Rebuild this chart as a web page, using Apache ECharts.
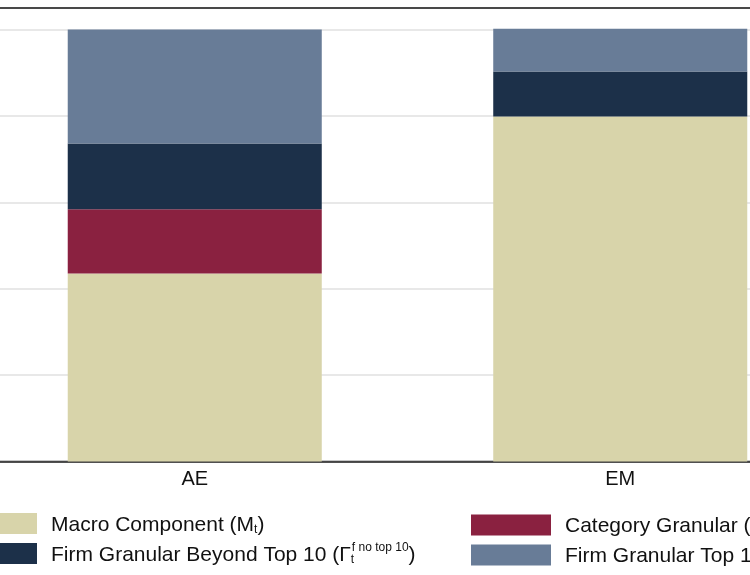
<!DOCTYPE html>
<html>
<head>
<meta charset="utf-8">
<script src="https://cdn.jsdelivr.net/npm/echarts@6/dist/echarts.min.js"></script>
<style>html,body{margin:0;padding:0;background:#fff}#c{width:750px;height:575px}</style>
</head>
<body>
<div id="c"></div>
<script>
var categories = ['AE', 'EM'];
var macroComponent = [0.435, 0.799];
var categoryGranular = [0.149, 0.0];
var firmBeyondTop10 = [0.152, 0.104];
var firmTop10 = [0.264, 0.099];
var seriesNames = ['Macro Component', 'Category Granular', 'Firm Granular Beyond Top 10', 'Firm Granular Top 10'];
var colors = ['#D8D4AA', '#8A2140', '#1C3049', '#687C97'];

var FONT = "'Liberation Sans', Arial, sans-serif";
var labels = {};
labels[seriesNames[0]] = '{n|Macro Component (M}{sub|t}{n|)}';
labels[seriesNames[1]] = '{n|Category Granular (\u0393}{subz|t}{sup|c}{n|)}';
labels[seriesNames[2]] = '{n|Firm Granular Beyond Top 10 (\u0393}{subz|t}{sup|f no top 10}{n|)}';
labels[seriesNames[3]] = '{n|Firm Granular Top 10 (\u0393}{subz|t}{sup|f top 10}{n|)}';

var rich = {
  n: {fontSize: 21, fontFamily: FONT, color: '#111', lineHeight: 24, verticalAlign: 'bottom'},
  sub: {fontSize: 12, fontFamily: FONT, color: '#111', lineHeight: 12, verticalAlign: 'bottom'},
  subz: {fontSize: 12, fontFamily: FONT, color: '#111', lineHeight: 12, verticalAlign: 'bottom', width: 1},
  sup: {fontSize: 12, fontFamily: FONT, color: '#111', lineHeight: 14, verticalAlign: 'top'}
};

function legendCfg(left, itemWidth, names) {
  return {
    orient: 'vertical', left: left, top: 513, padding: 0, itemGap: 6,
    itemWidth: itemWidth, itemHeight: 21, icon: 'rect',
    data: names,
    formatter: function (name) { return labels[name]; },
    textStyle: {rich: rich, padding: [0, 0, 0, 9]}
  };
}

var dataArrays = [macroComponent, categoryGranular, firmBeyondTop10, firmTop10];
var series = seriesNames.map(function (nm, i) {
  return {
    name: nm, type: 'bar', stack: 'total', data: dataArrays[i],
    barCategoryGap: '40.3%', itemStyle: {color: colors[i]}
  };
});

var chart = echarts.init(document.getElementById('c'));
chart.setOption({
  animation: false,
  backgroundColor: '#fff',
  color: colors,
  grid: {
    left: -18, right: -83, top: 8, bottom: 113.5, outerBoundsMode: 'none', containLabel: false,
    show: true, borderColor: '#222', borderWidth: 1.5, backgroundColor: '#fff'
  },
  legend: [
    legendCfg(0, 37, [seriesNames[0], seriesNames[2]]),
    legendCfg(471, 80, [seriesNames[1], seriesNames[3]])
  ],
  xAxis: [{
    type: 'category', data: categories,
    axisLine: {lineStyle: {color: '#222', width: 1.5}},
    axisTick: {show: false},
    axisLabel: {fontSize: 20, fontFamily: FONT, color: '#111', margin: 8}
  }, {
    type: 'category', data: categories, position: 'top',
    axisLine: {show: true, lineStyle: {color: '#222', width: 1.5}},
    axisTick: {show: false}, axisLabel: {show: false}, splitLine: {show: false}
  }],
  yAxis: {
    type: 'value', min: 0, max: 1.05, interval: 0.2,
    axisLabel: {show: false}, axisLine: {show: false}, axisTick: {show: false},
    splitLine: {lineStyle: {color: '#e0e0e0', width: 1.5}}
  },
  series: series
});
</script>
</body>
</html>
